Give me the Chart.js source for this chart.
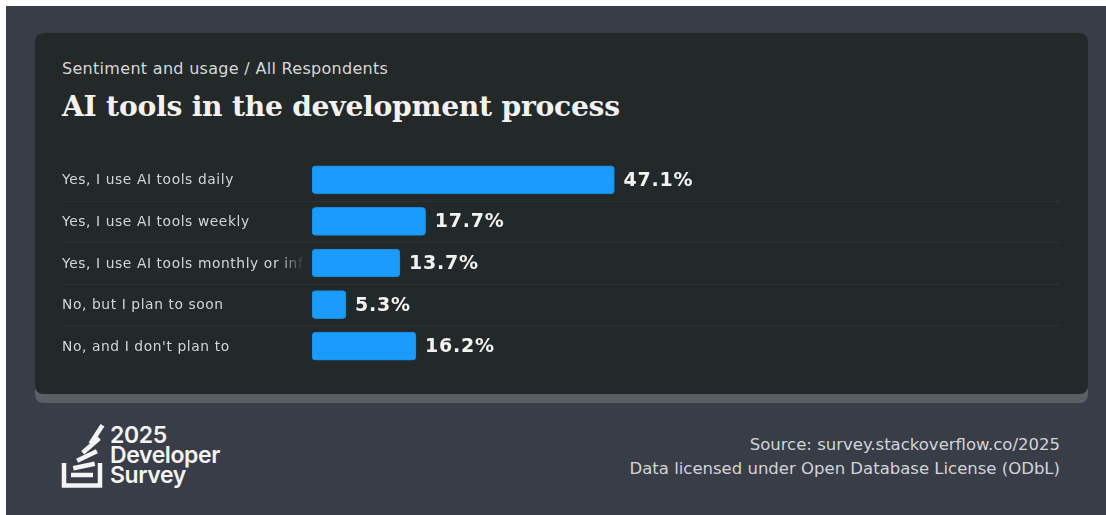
<!DOCTYPE html>
<html>
<head>
<meta charset="utf-8">
<script src="https://cdn.jsdelivr.net/npm/chart.js@4.4.1/dist/chart.umd.min.js"></script>
<style>
  html, body { margin: 0; padding: 0; background: #ffffff; width: 1106px; height: 515px; overflow: hidden; }
  #page { position: absolute; left: 6px; top: 6px; width: 1100px; height: 509px; background: #393d48; }
  #cardShadow { position: absolute; left: 35px; top: 33px; width: 1053px; height: 370px; background: #5a5f63; border-radius: 8px; }
  #card { position: absolute; left: 35px; top: 33px; width: 1053px; height: 361px; background: #232829; border-radius: 8px; }
  #subtitle { position: absolute; left: 62px; top: 59px; font: 16px "DejaVu Sans", sans-serif; color: #d6d8d8; white-space: nowrap; letter-spacing: 0.3px; }
  #title { position: absolute; left: 62px; top: 90px; font: bold 28.2px "DejaVu Serif", serif; color: #f2f2f2; white-space: nowrap; letter-spacing: -0.25px; }
  #chartWrap { position: absolute; left: 35px; top: 155px; width: 1053px; height: 212px; }
  #source { position: absolute; right: 46px; top: 433px; font: 16.5px "DejaVu Sans", sans-serif; color: #d2d4d6; text-align: right; line-height: 24px; white-space: nowrap; }
  #logoText { position: absolute; left: 110px; top: 425px; font: 600 23px "Inter", "DejaVu Sans", sans-serif; color: #f4f4f4; line-height: 20px; letter-spacing: -0.4px; }
  #logo { position: absolute; left: 58px; top: 421px; }
</style>
</head>
<body>
<div id="page"></div>
<div id="cardShadow"></div>
<div id="card"></div>
<div id="subtitle">Sentiment and usage / All Respondents</div>
<div id="title">AI tools in the development process</div>
<div id="chartWrap"><canvas id="chart"></canvas></div>
<svg id="logo" width="50" height="68" viewBox="0 0 50 68">
  <path d="M6 42 V64.5 H42 V42" fill="none" stroke="#f4f4f4" stroke-width="4.5"/>
  <g fill="#f4f4f4">
    <rect x="-11" y="-2.25" width="22" height="4.5" transform="translate(24 54)"/>
    <rect x="-11" y="-2.25" width="22" height="4.5" transform="translate(26 45) rotate(-12)"/>
    <rect x="-11" y="-2.25" width="22" height="4.5" transform="translate(29 35) rotate(-26)"/>
    <rect x="-11" y="-2.25" width="22" height="4.5" transform="translate(33 24.5) rotate(-41)"/>
    <rect x="-11" y="-2.25" width="22" height="4.5" transform="translate(38.5 13.5) rotate(-57)"/>
  </g>
</svg>
<div id="logoText">2025<br>Developer<br>Survey</div>
<div id="source">Source: survey.stackoverflow.co/2025<br>Data licensed under Open Database License (ODbL)</div>
<script>
const categories = [
  "Yes, I use AI tools daily",
  "Yes, I use AI tools weekly",
  "Yes, I use AI tools monthly or infrequently",
  "No, but I plan to soon",
  "No, and I don't plan to"
];
const values = [47.1, 17.7, 13.7, 5.3, 16.2];
const valueLabels = ["47.1%", "17.7%", "13.7%", "5.3%", "16.2%"];

const labelPlugin = {
  id: 'rowLabels',
  beforeDatasetsDraw(chart) {
    const ctx = chart.ctx;
    const y = chart.scales.y;
    ctx.save();
    ctx.strokeStyle = '#2c3133';
    ctx.lineWidth = 1;
    for (let i = 1; i < categories.length; i++) {
      const yy = Math.round((y.getPixelForValue(i - 1) + y.getPixelForValue(i)) / 2) + 0.5;
      ctx.beginPath();
      ctx.moveTo(27, yy);
      ctx.lineTo(1025, yy);
      ctx.stroke();
    }
    const clipRight = 270;
    ctx.beginPath();
    ctx.rect(0, 0, clipRight, chart.height);
    ctx.clip();
    ctx.font = '13.8px "DejaVu Sans", sans-serif';
    ctx.letterSpacing = '0.6px';
    ctx.textBaseline = 'middle';
    ctx.textAlign = 'left';
    categories.forEach((c, i) => {
      const yy = y.getPixelForValue(i);
      const w = ctx.measureText(c).width;
      if (27 + w > clipRight) {
        const g = ctx.createLinearGradient(clipRight - 26, 0, clipRight, 0);
        g.addColorStop(0, '#d4d6d6');
        g.addColorStop(1, 'rgba(212,214,214,0)');
        ctx.fillStyle = g;
      } else {
        ctx.fillStyle = '#d4d6d6';
      }
      ctx.fillText(c, 27, yy + 1);
    });
    ctx.restore();
  },
  afterDatasetsDraw(chart) {
    const ctx = chart.ctx;
    const meta = chart.getDatasetMeta(0);
    ctx.save();
    ctx.font = 'bold 19px "DejaVu Sans", sans-serif';
    ctx.letterSpacing = '0.8px';
    ctx.fillStyle = '#f2f2f2';
    ctx.textBaseline = 'middle';
    ctx.textAlign = 'left';
    meta.data.forEach((bar, i) => {
      ctx.fillText(valueLabels[i], bar.x + 9, bar.y + 1);
    });
    ctx.restore();
  }
};

new Chart(document.getElementById('chart'), {
  type: 'bar',
  data: {
    labels: categories,
    datasets: [{
      data: values,
      backgroundColor: '#1b9cfc',
      borderColor: '#1589e0',
      borderWidth: 1,
      borderSkipped: false,
      borderRadius: 4,
      barThickness: 28
    }]
  },
  options: {
    indexAxis: 'y',
    responsive: true,
    maintainAspectRatio: false,
    animation: false,
    layout: { padding: { left: 277, right: 134, top: 4, bottom: 0 } },
    plugins: { legend: { display: false }, tooltip: { enabled: false } },
    scales: {
      x: { min: 0, max: 100, display: false, grid: { display: false } },
      y: { display: false, grid: { display: false } }
    }
  },
  plugins: [labelPlugin]
});
</script>
</body>
</html>
